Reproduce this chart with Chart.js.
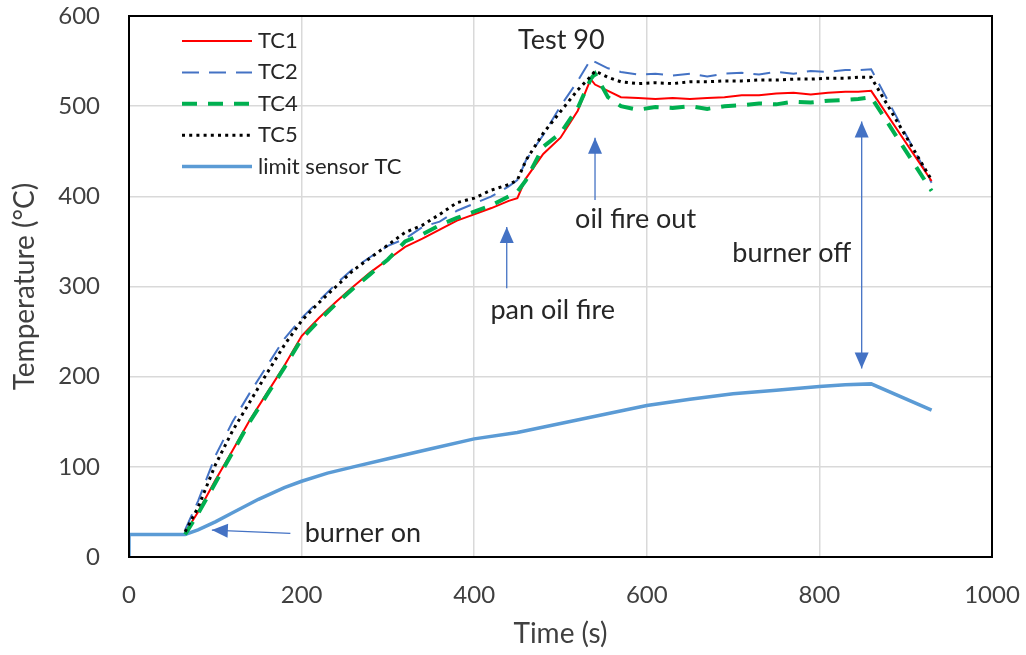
<!DOCTYPE html>
<html>
<head>
<meta charset="utf-8">
<script src="https://cdn.jsdelivr.net/npm/chart.js@4.4.1/dist/chart.umd.min.js"></script>
<style>
  html, body { margin: 0; padding: 0; background: #fff; }
</style>
</head>
<body>
<canvas id="chartTest90" width="1026" height="655"></canvas>
<script>
// temps (s) communs aux thermocouples
const tcTime = [65, 80, 100, 120, 140, 160, 180, 200, 220, 240, 260, 280, 300, 320, 340, 360, 380, 400,
  420, 440, 450, 460, 480, 500, 520, 535, 540, 555, 570, 590, 610, 630, 650, 670, 690, 710, 730,
  750, 770, 790, 810, 830, 845, 860, 930]

const tc1 = [27, 50, 85, 118, 152, 182, 212, 245, 265, 283, 300, 316, 330, 344, 353, 363, 373, 380,
  387, 395, 398, 420, 447, 465, 495, 530, 524, 517, 510, 509, 508, 509, 508, 509, 510, 512, 512,
  514, 515, 513, 515, 516, 516, 517, 417]

const tc2 = [30, 62, 112, 150, 182, 212, 242, 265, 284, 303, 320, 333, 345, 353, 366, 372, 384, 392,
  400, 411, 418, 440, 468, 500, 528, 552, 549, 542, 538, 535, 536, 534, 536, 533, 536, 537, 535,
  538, 536, 539, 538, 540, 540, 541, 415]

const tc4 = [25, 48, 82, 116, 150, 180, 210, 242, 262, 281, 298, 314, 330, 350, 358, 368, 376, 383,
  390, 400, 405, 418, 455, 470, 498, 530, 536, 510, 500, 496, 499, 498, 500, 497, 500, 501, 503,
  502, 505, 504, 506, 507, 508, 510, 406]

const tc5 = [28, 55, 102, 140, 172, 204, 235, 262, 282, 300, 318, 332, 346, 360, 368, 380, 393, 398,
  407, 413, 418, 440, 470, 494, 518, 533, 539, 532, 527, 525, 526, 525, 527, 527, 528, 528, 529,
  529, 530, 530, 531, 531, 532, 532, 418]

// capteur limite
const limitTime = [0, 0, 65, 80, 100, 120, 150, 180, 200, 230, 260, 300, 350, 400, 450, 500, 550, 600, 650, 700, 750, 800, 830, 860, 930]
const limitTemp = [0, 25, 25, 30, 39, 49, 64, 77, 84, 93, 100, 109, 120, 131, 138, 148, 158, 168, 175, 181, 185, 189, 191, 192, 163]

const xTicks = [0, 200, 400, 600, 800, 1000]
const yTicks = [0, 100, 200, 300, 400, 500, 600]

const labelSeries = ["TC1", "TC2", "TC4", "TC5", "limit sensor TC"]

// textes et flèches (en unités des axes)
const notes = [
  {text: "Test 90", t: 501, T: 573},
  {text: "oil fire out", t: 587, T: 374},
  {text: "burner off", t: 768, T: 337},
  {text: "pan oil fire", t: 491, T: 274},
  {text: "burner on", t: 271, T: 26}
]
const arrows = [
  {from: [187, 26.3], to: [96, 29.9], both: false},
  {from: [437.7, 298], to: [437.7, 366], both: false},
  {from: [540, 396], to: [540, 465], both: false},
  {from: [849, 209], to: [849, 483], both: true}
]

function pts(xs, ys) {
  return xs.map((x, i) => ({x: x, y: ys[i]}))
}

const FONT = "Lato, 'Open Sans', sans-serif"

const data = {
  datasets: [
    {label: labelSeries[0], data: pts(tcTime, tc1), borderColor: "#FF0000", borderWidth: 2, order: 3},
    {label: labelSeries[1], data: pts(tcTime, tc2), borderColor: "#4472C4", borderWidth: 2, borderDash: [17, 10], order: 4},
    {label: labelSeries[2], data: pts(tcTime, tc4), borderColor: "#00B050", borderWidth: 4, borderDash: [15, 11], order: 2},
    {label: labelSeries[3], data: pts(tcTime, tc5), borderColor: "#000000", borderWidth: 3, borderDash: [3, 4.2], order: 1},
    {label: labelSeries[4], data: pts(limitTime, limitTemp), borderColor: "#5B9BD5", borderWidth: 3.5, order: 5}
  ]
}

function drawArrowHead(ctx, x1, y1, x2, y2) {
  const a = Math.atan2(y2 - y1, x2 - x1)
  const len = 16, w = 7
  ctx.beginPath()
  ctx.moveTo(x2, y2)
  ctx.lineTo(x2 - len * Math.cos(a) + w * Math.sin(a), y2 - len * Math.sin(a) - w * Math.cos(a))
  ctx.lineTo(x2 - len * Math.cos(a) - w * Math.sin(a), y2 - len * Math.sin(a) + w * Math.cos(a))
  ctx.closePath()
  ctx.fill()
}

const extras = {
  id: "extras",
  afterDatasetsDraw(chart) {
    const ctx = chart.ctx
    const xs = chart.scales.x, ys = chart.scales.y
    const area = chart.chartArea
    ctx.save()

    // cadre noir
    ctx.strokeStyle = "#000"
    ctx.lineWidth = 2
    ctx.strokeRect(area.left, area.top, area.right - area.left, area.bottom - area.top)

    // légende dans le graphe
    chart.data.datasets.forEach((ds, i) => {
      const y = area.top + 25 + i * 31.4
      ctx.beginPath()
      ctx.strokeStyle = ds.borderColor
      ctx.lineWidth = ds.borderWidth
      ctx.setLineDash(ds.borderDash || [])
      ctx.moveTo(182, y)
      ctx.lineTo(252, y)
      ctx.stroke()
      ctx.setLineDash([])
      ctx.fillStyle = "#262626"
      ctx.font = "22px " + FONT
      ctx.textAlign = "left"
      ctx.textBaseline = "middle"
      ctx.fillText(ds.label, 258, y)
    })

    // flèches
    ctx.strokeStyle = "#4472C4"
    ctx.fillStyle = "#4472C4"
    ctx.lineWidth = 1.3
    arrows.forEach(a => {
      const x1 = xs.getPixelForValue(a.from[0]), y1 = ys.getPixelForValue(a.from[1])
      const x2 = xs.getPixelForValue(a.to[0]), y2 = ys.getPixelForValue(a.to[1])
      ctx.beginPath()
      ctx.moveTo(x1, y1)
      ctx.lineTo(x2, y2)
      ctx.stroke()
      drawArrowHead(ctx, x1, y1, x2, y2)
      if (a.both) drawArrowHead(ctx, x2, y2, x1, y1)
    })

    // textes
    ctx.fillStyle = "#262626"
    ctx.font = "27px " + FONT
    ctx.textAlign = "center"
    ctx.textBaseline = "middle"
    notes.forEach(n => {
      ctx.fillText(n.text, xs.getPixelForValue(n.t), ys.getPixelForValue(n.T))
    })
    ctx.restore()
  }
}

const config = {
  type: "line",
  data: data,
  options: {
    responsive: false,
    animation: false,
    devicePixelRatio: 1,
    layout: {padding: {top: 16, right: 34, left: 0, bottom: 0}},
    elements: {point: {radius: 0}, line: {tension: 0, fill: false}},
    plugins: {
      legend: {display: false},
      tooltip: {enabled: false},
      title: {display: false}
    },
    scales: {
      x: {
        type: "linear",
        min: 0, max: 1000,
        afterBuildTicks: s => { s.ticks = xTicks.map(v => ({value: v})) },
        afterFit: s => { s.height = 98; s.paddingLeft = 0; s.paddingRight = 0 },
        grid: {color: "#D9D9D9", lineWidth: 1.5, drawTicks: false},
        border: {display: false},
        ticks: {padding: 24, color: "#404040", font: {family: FONT, size: 24}, callback: v => String(v)},
        title: {display: true, text: "Time (s)", color: "#404040", font: {family: FONT, size: 28}, padding: {top: 10}}
      },
      y: {
        min: 0, max: 600,
        afterBuildTicks: s => { s.ticks = yTicks.map(v => ({value: v})) },
        afterFit: s => { s.width = 129; s.paddingTop = 0; s.paddingBottom = 0 },
        grid: {color: "#D9D9D9", lineWidth: 1.5, drawTicks: false},
        border: {display: false},
        ticks: {padding: 29, color: "#404040", font: {family: FONT, size: 24}, callback: v => String(v)},
        title: {display: true, text: "Temperature (°C)", color: "#404040", font: {family: FONT, size: 28}, padding: {top: 8}}
      }
    }
  },
  plugins: [extras]
}

const myChart = new Chart(document.getElementById("chartTest90"), config)
</script>
</body>
</html>
